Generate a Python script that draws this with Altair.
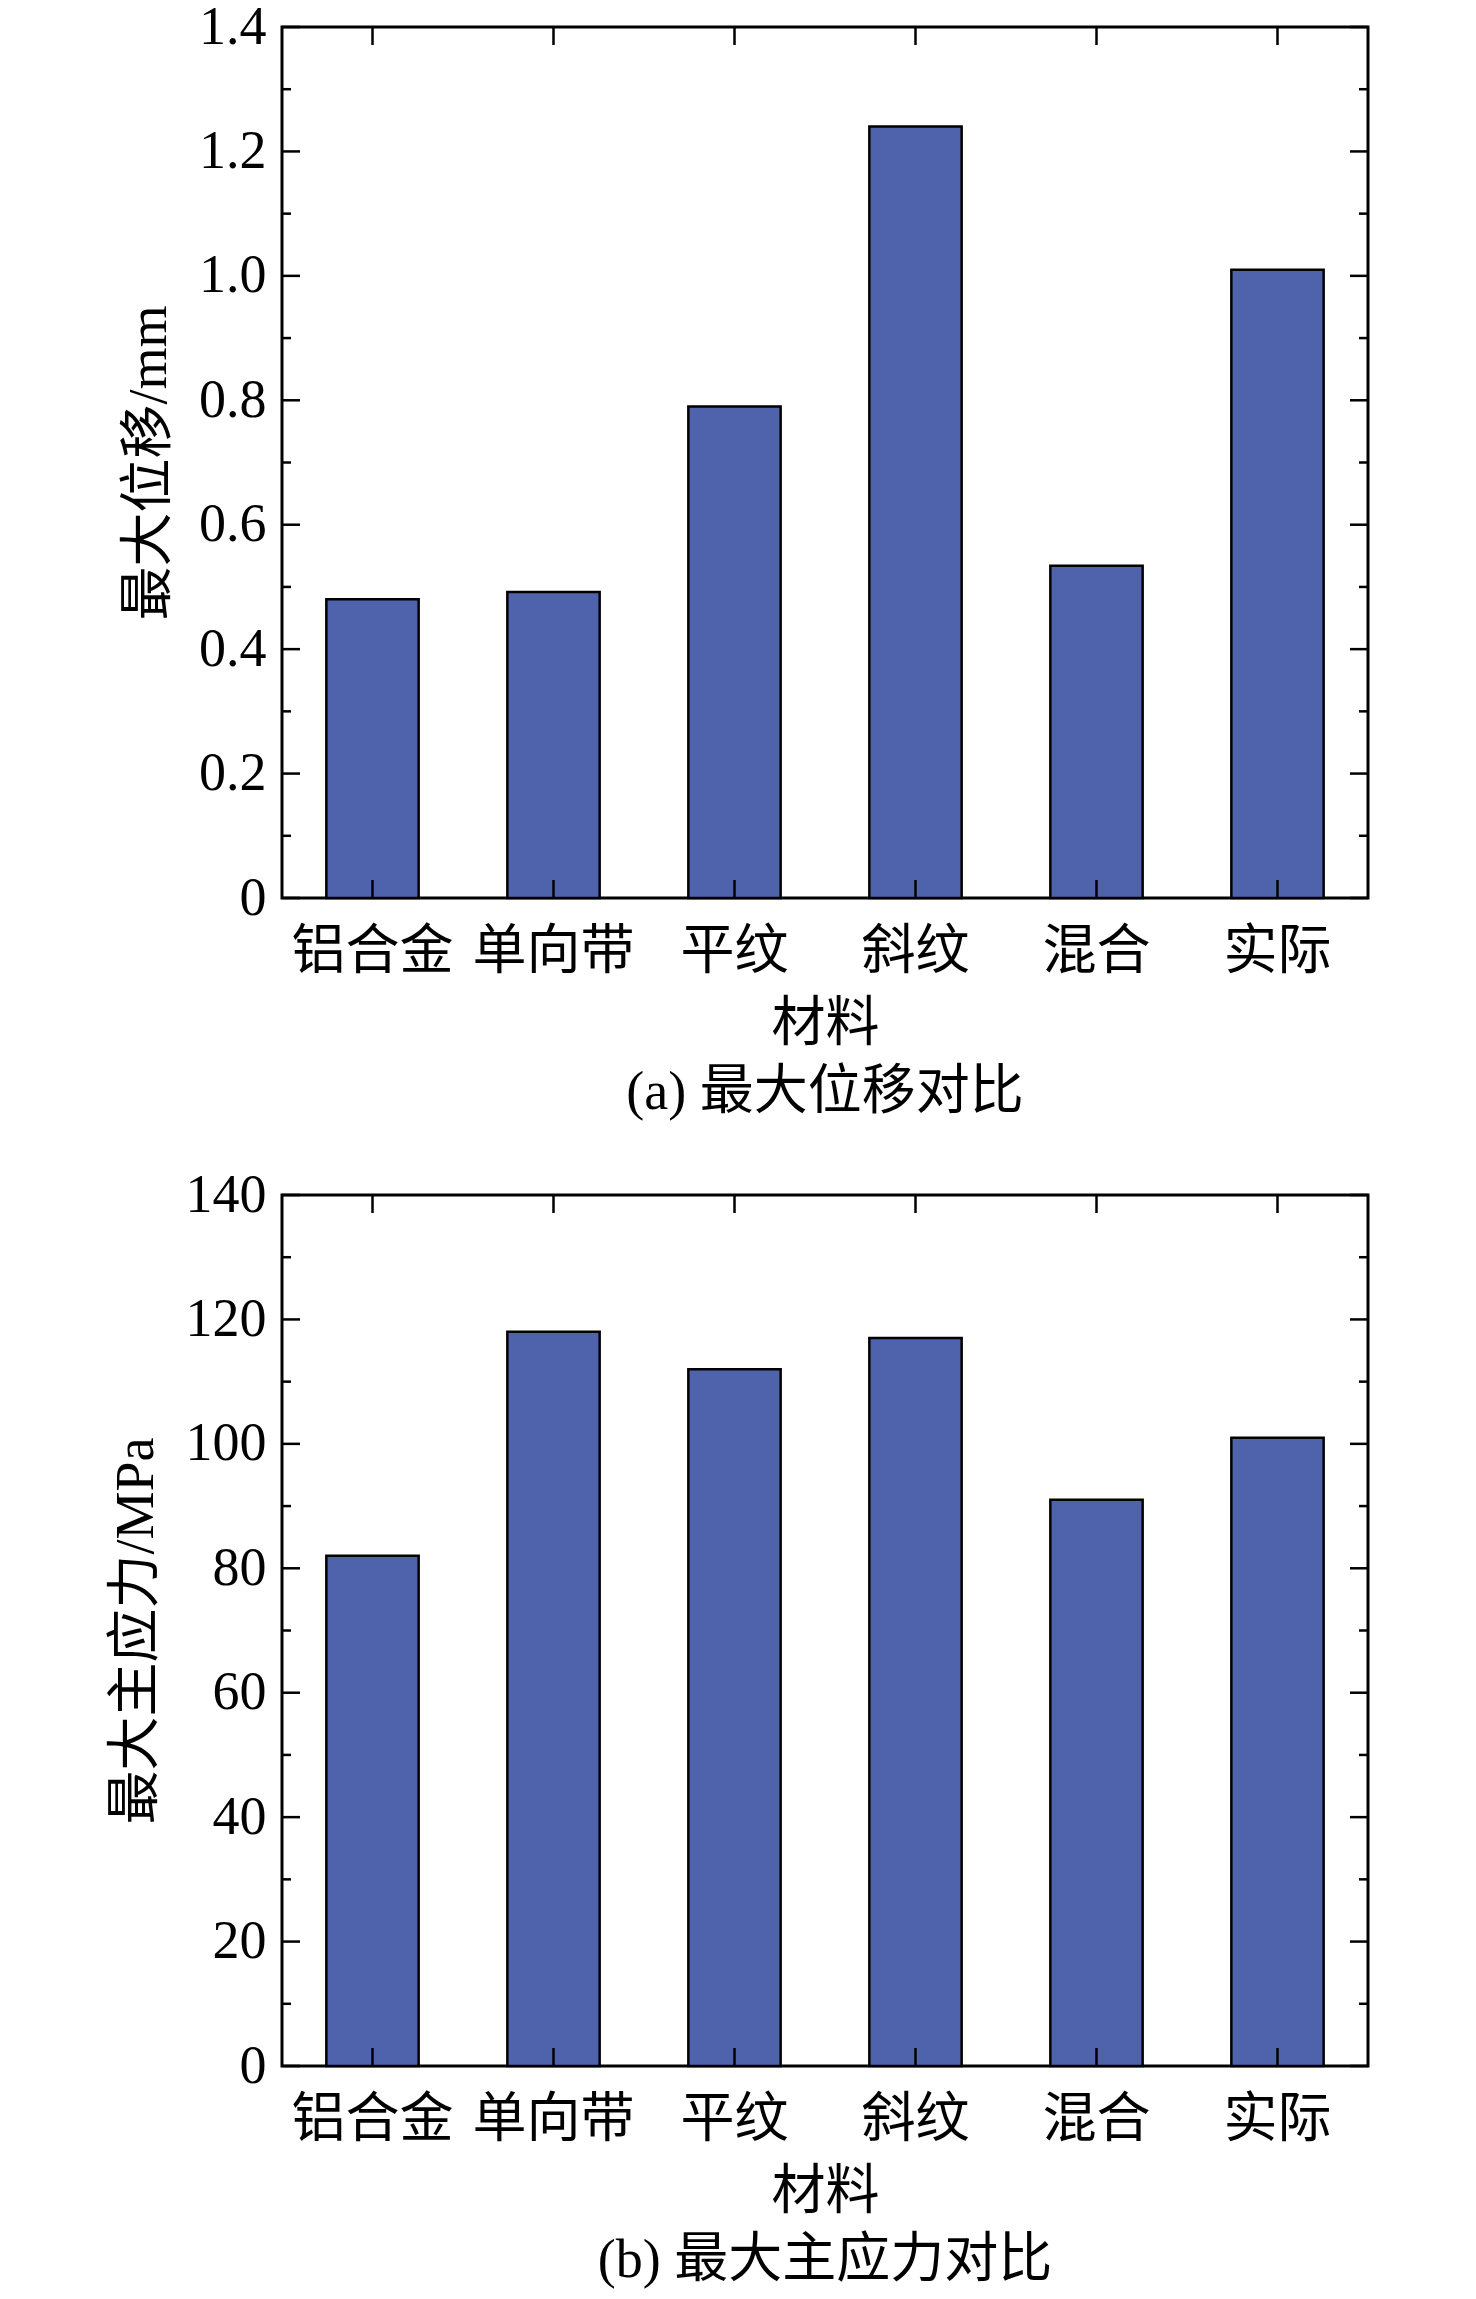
import altair as alt
import pandas as pd

# ---- data ----
categories = ["铝合金", "单向带", "平纹", "斜纹", "混合", "实际"]
max_disp = [0.48, 0.492, 0.79, 1.24, 0.534, 1.01]          # mm
max_stress = [82, 118, 112, 117, 91, 101]                   # MPa

disp_major = [0, 0.2, 0.4, 0.6, 0.8, 1.0, 1.2, 1.4]
disp_minor = [0.1, 0.3, 0.5, 0.7, 0.9, 1.1, 1.3]
stress_major = [0, 20, 40, 60, 80, 100, 120, 140]
stress_minor = [10, 30, 50, 70, 90, 110, 130]

FONT = "Liberation Serif, Noto Sans CJK SC"
FS = 54
W, H = 1086, 871
BAR_COLOR = "#4F63AC"
MAJ, MIN = 18, 9


def panel(values, major, minor, ymax, ytitle, subtitle, fmt):
    df = pd.DataFrame({"材料": categories, "v": values})
    xenc = alt.X("材料:N", sort=categories,
                 scale=alt.Scale(paddingInner=0.49, paddingOuter=0.245),
                 axis=alt.Axis(title="材料", labelAngle=0, ticks=False, domain=False,
                               labelPadding=27, titlePadding=18, labelOverlap=False,
                               labelLimit=400))
    bars = alt.Chart(df).mark_bar(color=BAR_COLOR, stroke="black", strokeWidth=2.5).encode(
        x=xenc,
        y=alt.Y("v:Q", scale=alt.Scale(domain=[0, ymax], nice=False),
                axis=alt.Axis(title=ytitle, values=major, ticks=False, domain=False,
                              grid=False, labelPadding=16, titlePadding=22,
                              labelExpr=fmt)),
    )
    xt_top = alt.Chart(df).mark_rule(color="black", strokeWidth=2.5).encode(
        x=alt.X("材料:N", sort=categories), y=alt.value(0), y2=alt.value(MAJ))
    xt_bot = alt.Chart(df).mark_rule(color="black", strokeWidth=2.5).encode(
        x=alt.X("材料:N", sort=categories), y=alt.value(H - MAJ), y2=alt.value(H))
    dmaj = pd.DataFrame({"t": major})
    dmin = pd.DataFrame({"t": minor})
    yl_maj = alt.Chart(dmaj).mark_rule(color="black", strokeWidth=2.5).encode(
        y="t:Q", x=alt.value(0), x2=alt.value(MAJ))
    yr_maj = alt.Chart(dmaj).mark_rule(color="black", strokeWidth=2.5).encode(
        y="t:Q", x=alt.value(W - MAJ), x2=alt.value(W))
    yl_min = alt.Chart(dmin).mark_rule(color="black", strokeWidth=2.5).encode(
        y="t:Q", x=alt.value(0), x2=alt.value(MIN))
    yr_min = alt.Chart(dmin).mark_rule(color="black", strokeWidth=2.5).encode(
        y="t:Q", x=alt.value(W - MIN), x2=alt.value(W))
    return alt.layer(bars, xt_top, xt_bot, yl_maj, yr_maj, yl_min, yr_min).properties(
        width=W, height=H,
        title=alt.TitleParams(subtitle, orient="bottom", fontSize=FS, fontWeight="normal",
                              font=FONT, offset=15, color="black"),
    )


fmt_a = "datum.value == 0 ? '0' : format(datum.value, '.1f')"
fmt_b = "format(datum.value, 'd')"

top = panel(max_disp, disp_major, disp_minor, 1.4, "最大位移/mm", "(a) 最大位移对比", fmt_a)
bot = panel(max_stress, stress_major, stress_minor, 140, "最大主应力/MPa", "(b) 最大主应力对比", fmt_b)

chart = alt.vconcat(top, bot, spacing=297, bounds="flush").properties(
    padding={"left": 99, "top": -10, "right": 10, "bottom": 5}
).configure_view(
    stroke="black", strokeWidth=3
).configure_axis(
    labelFont=FONT, titleFont=FONT, labelFontSize=FS, titleFontSize=FS,
    labelColor="black", titleColor="black", titleFontWeight="normal"
).configure_concat(spacing=297)

chart.save("out.html", embed_options={"renderer": "svg", "actions": False})
